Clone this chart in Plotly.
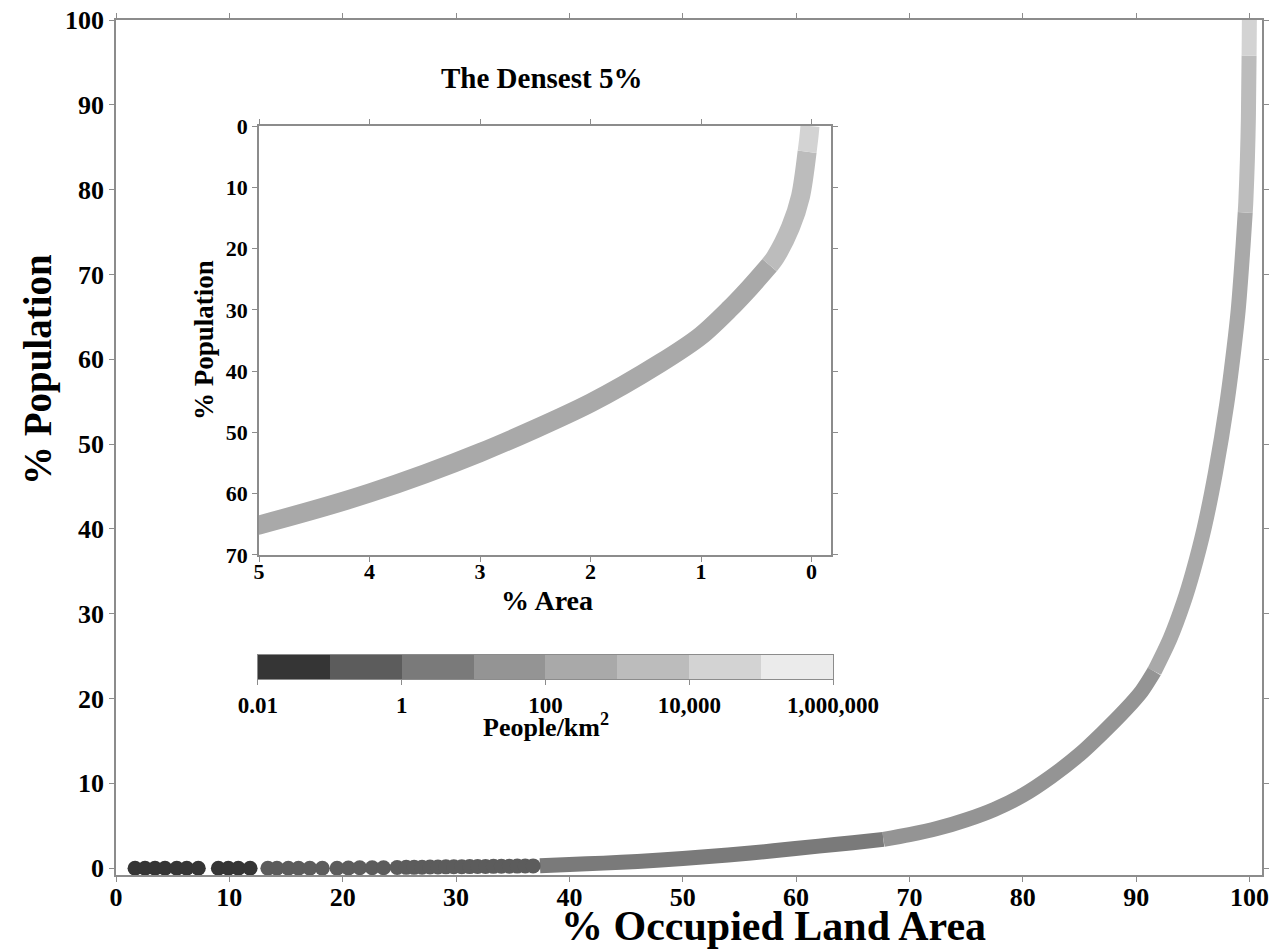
import plotly.graph_objects as go

# ---------------- data ----------------
# density classes (People/km^2), log10 edges -2 .. 6, one grey per class
class_colors = ["#353535", "#5c5c5c", "#7a7a7a", "#949494",
                "#a9a9a9", "#bcbcbc", "#d3d3d3", "#ebebeb"]
class_centers = [-1.5, -0.5, 0.5, 1.5, 2.5, 3.5, 4.5, 5.5]
class_ids = [0, 1, 2, 3, 4, 5, 6, 7]
cbar_tickvals = [-2, 0, 2, 4, 6]
cbar_ticktext = ["0.01", "1", "100", "10,000", "1,000,000"]

# sparsely populated cells drawn as individual dots along the x axis
dots_x = [1.68, 2.56, 3.44, 4.32, 5.36, 6.24, 7.26, 9.03, 9.91, 10.79, 11.83,
          13.4, 14.2, 15.2, 16.1, 17.1, 18.2, 19.5, 20.5, 21.5, 22.6, 23.6, 24.8,
          25.6, 26.3, 27.0, 27.7, 28.4, 29.1, 29.8, 30.5, 31.2, 31.9, 32.6,
          33.3, 34.0, 34.7, 35.4, 36.1, 36.8]
dots_y = [0, 0, 0, 0, 0, 0, 0, 0, 0, 0, 0,
          0, 0, 0, 0, 0, 0, 0, 0.03, 0.05, 0.05, 0.06, 0.08,
          0.1, 0.1, 0.12, 0.14, 0.15, 0.16, 0.17, 0.18, 0.19, 0.2, 0.21,
          0.22, 0.23, 0.24, 0.25, 0.26, 0.27]
dots_class = [0, 0, 0, 0, 0, 0, 0, 0, 0, 0, 0,
              1, 1, 1, 1, 1, 1, 1, 1, 1, 1, 1, 1,
              1, 1, 1, 1, 1, 1, 1, 1, 1, 1, 1,
              1, 1, 1, 1, 1, 1]

# cumulative curve (% occupied land area vs % population)
curve_x = [37.4, 40.0, 43.0, 46.0, 50.0, 54.0, 58.0, 62.0, 65.0, 67.7,
           70.0, 72.5, 75.0, 77.5, 80.0, 82.5, 85.0, 87.0, 89.0, 90.5,
           91.6, 93.0, 94.2, 95.0, 96.0, 97.0, 98.0, 98.63, 99.0, 99.25,
           99.44, 99.62, 99.67, 99.81, 99.9, 99.96, 99.975, 99.986]
curve_y = [0.28, 0.45, 0.6, 0.8, 1.15, 1.55, 2.05, 2.6, 3.0, 3.4,
           3.95, 4.7, 5.7, 6.95, 8.6, 10.8, 13.4, 15.9, 18.6, 20.9,
           23.2, 27.1, 31.4, 34.9, 40.1, 46.7, 54.8, 61.3, 65.8, 70.0,
           73.6, 77.3, 78.5, 83.5, 88.5, 95.8, 98.0, 100.0]
# density class of the stretch that starts at each point
curve_class = [2, 2, 2, 2, 2, 2, 2, 2, 2,
               3, 3, 3, 3, 3, 3, 3, 3, 3, 3, 3,
               4, 4, 4, 4, 4, 4, 4, 4, 4, 4, 4,
               5, 5, 5, 5,
               6, 6, 6]

main_ticks = [0, 10, 20, 30, 40, 50, 60, 70, 80, 90, 100]
inset_xticks = [0, 1, 2, 3, 4, 5]
inset_yticks = [0, 10, 20, 30, 40, 50, 60, 70]

# ---------------- figure ----------------
FONT = "Liberation Serif"
AX = "#8c8c8c"

fig = go.Figure()


def class_segments(xs, ys, cls):
    segs = {}
    for k in sorted(set(cls)):
        idx = [i for i, c in enumerate(cls) if c == k]
        lo, hi = idx[0], min(idx[-1] + 1, len(xs) - 1)
        segs[k] = (xs[lo:hi + 1], ys[lo:hi + 1])
    return segs


# main curve
for k, (sx, sy) in class_segments(curve_x, curve_y, curve_class).items():
    fig.add_trace(go.Scatter(x=sx, y=sy, mode="lines", xaxis="x", yaxis="y",
                             line=dict(color=class_colors[k], width=15,
                                       shape="spline", smoothing=0.8),
                             hoverinfo="skip", showlegend=False))

fig.add_trace(go.Scatter(x=dots_x, y=dots_y, mode="markers", xaxis="x", yaxis="y",
                         marker=dict(size=15, color=[class_colors[c] for c in dots_class],
                                     line=dict(width=0)),
                         cliponaxis=False, hoverinfo="skip", showlegend=False))

# inset: densest 5 % (reversed coordinates)
ins_x = [100 - v for v in curve_x[22:]]
ins_y = [100 - v for v in curve_y[22:]]
ins_c = curve_class[22:]
for k, (sx, sy) in class_segments(ins_x, ins_y, ins_c).items():
    fig.add_trace(go.Scatter(x=sx, y=sy, mode="lines", xaxis="x2", yaxis="y2",
                             line=dict(color=class_colors[k], width=19,
                                       shape="spline", smoothing=0.8),
                             hoverinfo="skip", showlegend=False))

# colour key
cscale = []
for i, c in enumerate(class_colors):
    cscale.append([i / 8, c])
    cscale.append([(i + 1) / 8, c])
fig.add_trace(go.Heatmap(x=class_centers, y=[0.5], z=[class_ids], xaxis="x3", yaxis="y3",
                         colorscale=cscale, zmin=-0.5, zmax=7.5, showscale=False,
                         hoverinfo="skip"))

tick_main = dict(family=FONT, size=26, color="black", weight="bold")
tick_inset = dict(family=FONT, size=22, color="black", weight="bold")
tick_cbar = dict(family=FONT, size=23, color="black", weight="bold")

common_axis = dict(showline=True, linecolor=AX, linewidth=1.5, mirror="ticks",
                   ticks="outside", ticklen=5, tickcolor=AX, tickwidth=1,
                   showgrid=False, zeroline=False, automargin=False)

fig.update_layout(
    template="none",
    width=1281, height=951, autosize=False,
    margin=dict(l=116, r=19, t=20, b=76, pad=0),
    paper_bgcolor="white", plot_bgcolor="white",
    xaxis=dict(domain=[0, 1], range=[0, 101.1], tickvals=main_ticks,
               tickfont=tick_main, anchor="y", ticklabelstandoff=-7, **common_axis),
    yaxis=dict(domain=[0, 1], range=[-0.8, 100], tickvals=main_ticks,
               tickfont=tick_main, anchor="x", **common_axis),
    xaxis2=dict(domain=[0.1248, 0.6239], range=[5, -0.176], tickvals=inset_xticks,
                tickfont=tick_inset, anchor="y2", ticklabelstandoff=-9, **common_axis),
    yaxis2=dict(domain=[0.3743, 0.876], range=[70, 0], tickvals=inset_yticks,
                tickfont=tick_inset, anchor="x2", **common_axis),
    xaxis3=dict(domain=[0.1239, 0.6257], range=[-2, 6], tickvals=cbar_tickvals,
                ticktext=cbar_ticktext, tickfont=tick_cbar, anchor="y3",
                showline=True, linecolor=AX, linewidth=1, mirror=True,
                ticks="outside", ticklen=5, tickcolor=AX, showgrid=False,
                zeroline=False, automargin=False),
    yaxis3=dict(domain=[0.2292, 0.2573], range=[0, 1], anchor="x3",
                showline=True, linecolor=AX, linewidth=1, mirror=True,
                showticklabels=False, ticks="", showgrid=False, zeroline=False,
                automargin=False),
)

ann_font = lambda s: dict(family=FONT, size=s, color="black", weight="bold")
fig.add_annotation(text="% Occupied Land Area", xref="paper", yref="paper",
                   x=0.574, y=-0.0885, showarrow=False, font=ann_font(42),
                   xanchor="center", yanchor="bottom")
fig.add_annotation(text="% Population", xref="paper", yref="paper",
                   x=-0.068, y=0.5906, showarrow=False, font=ann_font(39),
                   textangle=-90, xanchor="center", yanchor="middle")
fig.add_annotation(text="The Densest 5%", xref="paper", yref="paper",
                   x=0.3709, y=0.932, showarrow=False, font=ann_font(29),
                   xanchor="center", yanchor="middle")
fig.add_annotation(text="% Population", xref="paper", yref="paper",
                   x=0.0768, y=0.6257, showarrow=False, font=ann_font(27),
                   textangle=-90, xanchor="center", yanchor="middle")
fig.add_annotation(text="% Area", xref="paper", yref="paper",
                   x=0.376, y=0.3216, showarrow=False, font=ann_font(28),
                   xanchor="center", yanchor="middle")
fig.add_annotation(text="People/km<sup>2</sup>", xref="paper", yref="paper",
                   x=0.3752, y=0.1754, showarrow=False, font=ann_font(26),
                   xanchor="center", yanchor="middle")

fig.write_html("out.html")
